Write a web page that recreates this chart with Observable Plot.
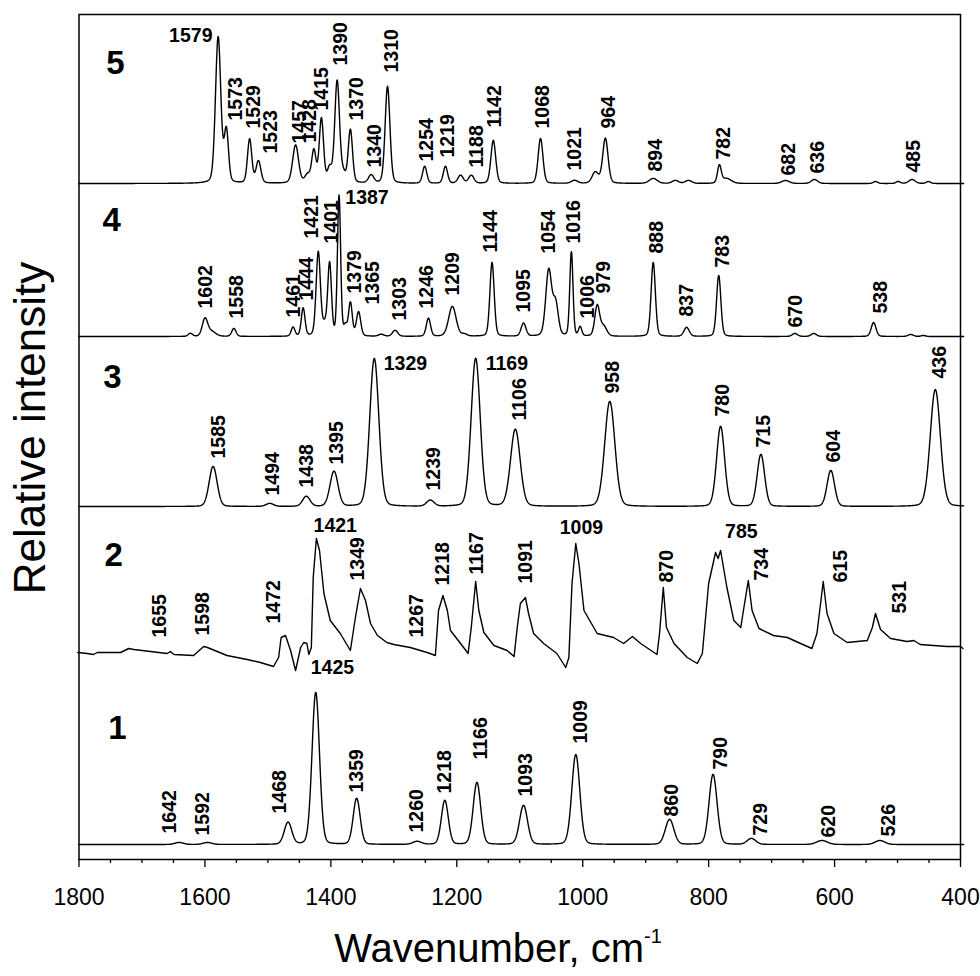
<!DOCTYPE html>
<html><head><meta charset="utf-8">
<script src="https://cdn.jsdelivr.net/npm/d3@7"></script>
<script src="https://cdn.jsdelivr.net/npm/@observablehq/plot@0.6"></script>
<style>
body{margin:0;background:#fff;}
#wrap{position:relative;width:980px;height:976px;font-family:"Liberation Sans",Arial,sans-serif;color:#000;}
#ytitle{position:absolute;left:30px;top:428px;transform:translate(-50%,-50%) rotate(-90deg);font-size:44px;white-space:nowrap;line-height:1;}
#xtitle{position:absolute;left:498px;top:926px;transform:translateX(-50%);font-size:40px;white-space:nowrap;line-height:1;}
#xtitle sup{font-size:0.5em;vertical-align:0.95em;}
</style></head>
<body>
<div id="wrap">
<div id="chart"></div>
<div id="ytitle">Relative intensity</div>
<div id="xtitle">Wavenumber, cm<sup>-1</sup></div>
</div>
<script>
// ---------- data ----------
const xTicks = [1800, 1600, 1400, 1200, 1000, 800, 600, 400];
const xMinor = [1750, 1700, 1650, 1550, 1500, 1450, 1350, 1300, 1250, 1150, 1100, 1050, 950, 900, 850, 750, 700, 650, 550, 500, 450];
const panelNames = ["1", "2", "3", "4", "5"];
const panelOffsets = [15, 207, 353, 523, 676];
const panelNamePos = [[1739, 116], [1745, 97], [1747, 129], [1748, 116], [1742, 120]];

// peaks: [wavenumber, height, fwhm]
const p1Peaks = [[1641,2,16],[1596,2,16],[1468,22,14],[1424,152,14],[1359,46,13],[1263,3,16],[1219,44,13],[1168,62,14],[1094,39,15],[1011,90,15],[862,25,16],[793,70,15],[732,6,16],[620,4,20],[528,4,18]];
const p2Trace = [[1802,0],[1787,-1],[1777,-2],[1771,0],[1734,0],[1721,4],[1713,3],[1660,-1],[1655,1],[1649,-2],[1618,-3],[1602,6],[1596,5],[1565,-3],[1533,-7],[1512,-10],[1491,-14],[1483,-5],[1479,15],[1472,17],[1464,2],[1456,-18],[1448,5],[1443,10],[1438,9],[1435,-2],[1431,5],[1428,75],[1423,114],[1418,102],[1411,59],[1401,32],[1385,19],[1369,2],[1361,35],[1353,64],[1345,52],[1337,29],[1326,17],[1311,10],[1300,8],[1274,5],[1247,0],[1234,-3],[1229,42],[1222,57],[1215,42],[1210,22],[1194,9],[1182,-1],[1177,25],[1170,71],[1165,42],[1157,20],[1141,7],[1120,2],[1109,-4],[1104,25],[1099,49],[1091,55],[1086,39],[1078,19],[1062,9],[1041,-1],[1027,-15],[1022,-5],[1017,69],[1011,109],[1006,89],[998,42],[977,19],[951,15],[935,9],[921,16],[908,9],[882,-2],[878,19],[872,65],[867,25],[855,9],[834,-5],[818,-11],[810,-1],[800,69],[789,100],[785,94],[781,102],[771,65],[760,32],[749,25],[744,45],[737,72],[731,42],[720,24],[697,17],[675,15],[654,9],[636,4],[628,19],[618,71],[612,39],[601,19],[580,10],[548,12],[540,25],[535,39],[527,23],[511,14],[485,11],[474,12],[464,8],[421,6],[400,6],[396,4]];
const p3Peaks = [[1587,40,15],[1497,3,14],[1439,10,14],[1395,35,15],[1331,148,17],[1242,6,14],[1170,148,17],[1107,77,18],[957,105,19],[781,80,15],[717,52,14],[606,36,14],[440,117,19]];
const p4Peaks = [[1623,3,8],[1600,17,10],[1590,5,16],[1554,8,8],[1460,9,7],[1444,28,7],[1420,84,8],[1410,10,8],[1402,72,7],[1387,140,6],[1377,9,6],[1369,33,7],[1356,24,8],[1320,2,10],[1298,6,10],[1245,18,8],[1207,30,14],[1188,2,10],[1144,74,8],[1094,13,9],[1054,66,11],[1043,32,10],[1018,84,6],[1004,9,6],[977,30,9],[967,10,12],[888,74,8],[835,9,10],[784,61,8],[663,3,10],[633,3,10],[538,14,9],[479,2,10],[459,1,8]];
const p5Peaks = [[1579,146,10],[1566,52,8],[1529,44,8],[1515,22,9],[1456,38,11],[1437,8,10],[1427,32,8],[1415,64,8],[1402,14,8],[1390,102,9],[1380,8,8],[1369,53,8],[1336,8,10],[1310,97,9],[1251,17,8],[1218,17,8],[1194,8,10],[1177,8,10],[1142,43,9],[1067,45,9],[1013,3,12],[980,11,12],[964,45,10],[888,5,15],[853,3,12],[832,3,12],[783,17,7],[772,5,18],[678,3,14],[632,4,12],[535,2,8],[499,2,8],[477,4,12],[451,2,8]];

// peak labels: [text, wavenumber, height above the panel baseline]
const p1Labels = [["1642",1656,11],["1592",1604,9],["1468",1481,31],["1359",1359,52],["1260",1263,12],["1218",1219,51],["1166",1162,85],["1093",1091,48],["1009",1003,101],["860",858,28],["790",781,75],["729",718,9],["620",609,7],["526",514,8]];
const p2Labels = [["1655",1671,15],["1598",1604,17],["1472",1490,29],["1349",1357,72],["1267",1263,15],["1218",1223,67],["1167",1168,78],["1091",1091,69],["870",866,70],["734",715,72],["615",590,70],["531",496,39]];
const p3Labels = [["1585",1578,48],["1494",1493,11],["1438",1438,19],["1395",1391,42],["1239",1237,16],["1106",1100,86],["958",953,113],["780",778,90],["715",712,59],["604",601,44],["436",433,128]];
const p4Labels = [["1602",1599,28],["1558",1550,18],["1461",1459,19],["1444",1438,36],["1421",1430,98],["1401",1398,93],["1379",1362,43],["1365",1334,32],["1303",1290,16],["1246",1247,28],["1209",1206,41],["1144",1146,84],["1095",1094,24],["1054",1054,83],["1016",1014,93],["1006",992,18],["979",967,43],["888",882,83],["837",834,20],["783",778,69],["670",662,9],["538",527,23]];
const p5Labels = [["1573",1551,63],["1529",1523,55],["1523",1495,30],["1457",1450,40],["1428",1434,41],["1415",1414,73],["1390",1385,118],["1370",1359,63],["1340",1331,16],["1310",1303,111],["1254",1248,22],["1219",1215,26],["1188",1168,16],["1142",1139,56],["1068",1064,55],["1021",1012,13],["964",959,55],["894",884,12],["782",776,24],["682",673,8],["636",627,10],["485",475,11]];
// horizontal labels: [panel index, text, wavenumber, height]
const flatLabels = [[0,"1425",1432,177],[1,"1421",1393,127],[1,"1009",1002,125],[1,"785",748,121],[2,"1329",1316,143],[2,"1169",1154,143],[3,"1387",1377,139],[4,"1579",1588,148]];

// ---------- build ----------
const peakSets = [p1Peaks, null, p3Peaks, p4Peaks, p5Peaks];
const labelSets = [p1Labels, p2Labels, p3Labels, p4Labels, p5Labels];
const etas = [0.12, 0, 0.12, 0.2, 0.2];
const grid = d3.range(1800, 394.5, -0.5);
function spectrum(peaks, eta) {
  return grid.map(w => {
    let s = 0;
    for (const [c, h, f] of peaks) {
      const d = (w - c) / f;
      s += h * ((1 - eta) * Math.exp(-4 * Math.LN2 * d * d) + eta / (1 + 4 * d * d));
    }
    return [w, s];
  });
}
const lineData = [];
peakSets.forEach((pk, i) => {
  const pts = pk ? spectrum(pk, etas[i]) : p2Trace;
  for (const [w, v] of pts) lineData.push({w, v: v + panelOffsets[i], k: i});
});
const rotData = [];
labelSets.forEach((ls, i) => ls.forEach(([t, x, y]) => rotData.push({t, x, y: y + panelOffsets[i]})));
const flatData = flatLabels.map(([i, t, x, y]) => ({t, x, y: y + panelOffsets[i]}));
const anchorOf = t => (t === "1579" ? "end" : (t === "1421" || t === "1009" || t === "785") ? "middle" : "start");
const nameData = panelNames.map((t, i) => ({t, x: panelNamePos[i][0], y: panelNamePos[i][1] + panelOffsets[i]}));

const font = "'Liberation Sans', Arial, sans-serif";
const chart = Plot.plot({
  width: 980,
  height: 925,
  marginTop: 14,
  marginBottom: 66,
  marginLeft: 78.5,
  marginRight: 20,
  style: {fontFamily: font, color: "black", background: "white"},
  x: {domain: [1800, 400]},
  y: {domain: [0, 845], axis: null},
  marks: [
    Plot.frame({stroke: "black", strokeWidth: 1.5}),
    Plot.line(lineData, {x: "w", y: "v", z: "k", stroke: "black", strokeWidth: 1.4}),
    Plot.text(rotData, {x: "x", y: "y", text: "t", rotate: -90, textAnchor: "start", lineAnchor: "middle", fontSize: 19.5, fontWeight: "bold", fill: "black"}),
    ...["start", "middle", "end"].map(a => Plot.text(flatData.filter(d => anchorOf(d.t) === a), {x: "x", y: "y", text: "t", textAnchor: a, lineAnchor: "middle", fontSize: 19.5, fontWeight: "bold", fill: "black"})),
    Plot.text(nameData, {x: "x", y: "y", text: "t", textAnchor: "middle", lineAnchor: "middle", fontSize: 33, fontWeight: "bold", fill: "black"}),
    Plot.axisX(xTicks, {tickSize: 8, tickPadding: 21, fontSize: 23, tickFormat: d => String(d), stroke: "black", strokeWidth: 1.3, fill: "black"}),
    Plot.axisX(xMinor, {tickSize: 4, tickFormat: () => "", stroke: "black", strokeWidth: 1.3})
  ]
});
document.getElementById("chart").appendChild(chart);
</script>
</body></html>
